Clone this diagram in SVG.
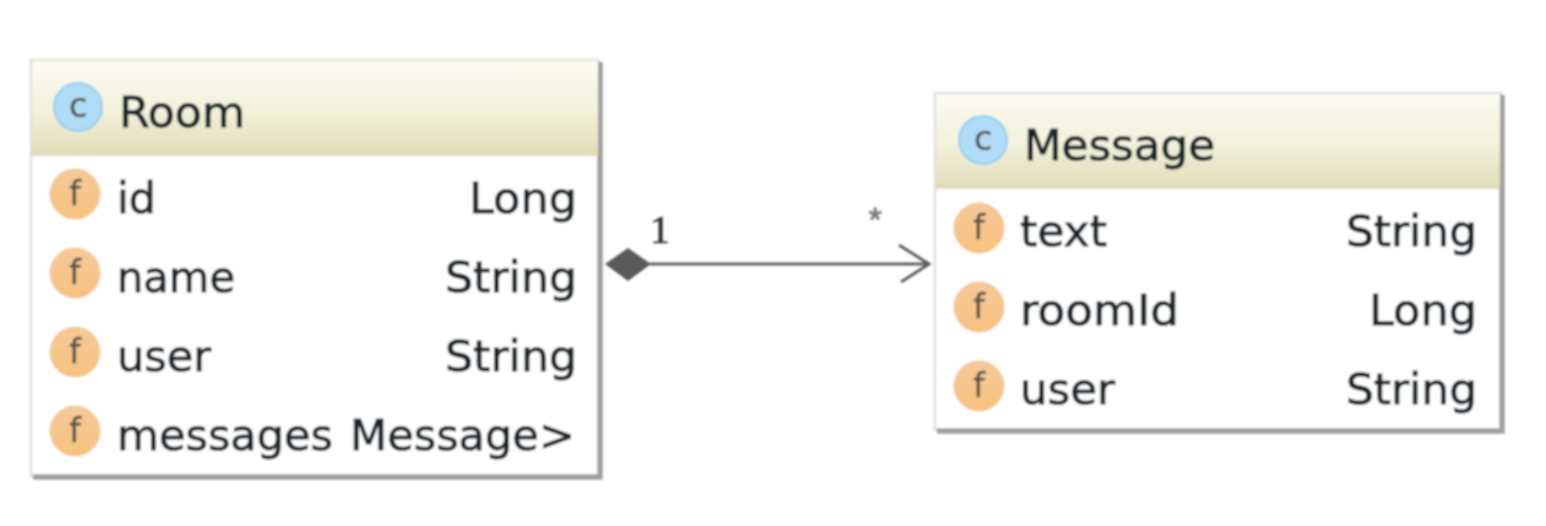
<svg xmlns="http://www.w3.org/2000/svg" width="1546" height="526" viewBox="0 0 1546 526">
<defs>
<linearGradient id="hd" x1="0" y1="0" x2="0" y2="1"><stop offset="0" stop-color="#fbfbf0"/><stop offset="0.5" stop-color="#f3f2dc"/><stop offset="1" stop-color="#dfdcb8"/></linearGradient>
<linearGradient id="fg" x1="0" y1="0" x2="0" y2="1"><stop offset="0" stop-color="#f7c998"/><stop offset="1" stop-color="#f6c27e"/></linearGradient>
<filter id="soft" x="-5%" y="-5%" width="110%" height="110%"><feGaussianBlur stdDeviation="1.1"/></filter>
</defs>
<style>
text{font-family:"DejaVu Sans","Liberation Sans",sans-serif;fill:#1f262c}
.t{font-size:43px;stroke:#1f262c;stroke-width:0.9}
.box{fill:#fff;stroke:#dedede;stroke-width:2.5}
.shr{fill:none;stroke:#a0a0a0;stroke-width:5.5}
.c{fill:#afdcf6;stroke:#98cdf0;stroke-width:2}
.f{fill:url(#fg);stroke:#f5c48e;stroke-width:1}
.ic{font-size:33px;text-anchor:middle;fill:#5a5348;stroke:#5a5348;stroke-width:0.5}
.ln{stroke:#5f5f5f;stroke-width:3;fill:none}
</style>
<g id="connectors" filter="url(#soft)">
<path class="ln" d="M650 264H929"/>
<path class="ln" d="M899 245L929 264L901 282"/>
<path d="M605 264L628 248L651 264L628 281Z" fill="#5a5a5a"/>
<text x="660" y="243" font-size="40" text-anchor="middle" style="font-family:'Liberation Serif',serif;fill:#333;stroke:#333;stroke-width:0.6">1</text>
<text x="875" y="231" font-size="34" text-anchor="middle" style="font-family:'Liberation Sans',sans-serif;fill:#777;stroke:#777;stroke-width:0.8">*</text>
</g>
<g id="room" filter="url(#soft)">
<rect class="box" x="31" y="60" width="568" height="416"/>
<path class="shr" d="M600 62V477H33"/>
<rect x="32" y="61" width="566" height="95" fill="url(#hd)"/>
<circle class="c" cx="78" cy="107" r="24"/><text class="ic" x="78" y="117">c</text>
<text class="t" x="119" y="127" textLength="126" lengthAdjust="spacingAndGlyphs">Room</text>
<circle class="f" cx="75" cy="194" r="25"/><text class="ic" x="75" y="205">f</text>
<text class="t" x="117" y="213" textLength="39" lengthAdjust="spacingAndGlyphs">id</text><text class="t" x="469" y="213" textLength="108" lengthAdjust="spacingAndGlyphs">Long</text>
<circle class="f" cx="75" cy="273" r="25"/><text class="ic" x="75" y="284">f</text>
<text class="t" x="117" y="292" textLength="118" lengthAdjust="spacingAndGlyphs">name</text><text class="t" x="445" y="292" textLength="132" lengthAdjust="spacingAndGlyphs">String</text>
<circle class="f" cx="75" cy="352" r="25"/><text class="ic" x="75" y="363">f</text>
<text class="t" x="117" y="371" textLength="94" lengthAdjust="spacingAndGlyphs">user</text><text class="t" x="445" y="371" textLength="132" lengthAdjust="spacingAndGlyphs">String</text>
<circle class="f" cx="75" cy="431" r="25"/><text class="ic" x="75" y="442">f</text>
<text class="t" x="117" y="450" textLength="216" lengthAdjust="spacingAndGlyphs">messages</text><text class="t" x="350" y="450" textLength="225" lengthAdjust="spacingAndGlyphs">Message&gt;</text>
</g>
<g id="message" filter="url(#soft)">
<rect class="box" x="935" y="93" width="566" height="337"/>
<path class="shr" d="M1502 95V431H937"/>
<rect x="936" y="94" width="564" height="95" fill="url(#hd)"/>
<circle class="c" cx="983" cy="140" r="24"/><text class="ic" x="983" y="150">c</text>
<text class="t" x="1024" y="160" textLength="191" lengthAdjust="spacingAndGlyphs">Message</text>
<circle class="f" cx="979" cy="228" r="25"/><text class="ic" x="979" y="239">f</text>
<text class="t" x="1020" y="246" textLength="87" lengthAdjust="spacingAndGlyphs">text</text><text class="t" x="1346" y="246" textLength="131" lengthAdjust="spacingAndGlyphs">String</text>
<circle class="f" cx="979" cy="307" r="25"/><text class="ic" x="979" y="318">f</text>
<text class="t" x="1020" y="325" textLength="159" lengthAdjust="spacingAndGlyphs">roomId</text><text class="t" x="1369" y="325" textLength="108" lengthAdjust="spacingAndGlyphs">Long</text>
<circle class="f" cx="979" cy="386" r="25"/><text class="ic" x="979" y="397">f</text>
<text class="t" x="1020" y="404" textLength="95" lengthAdjust="spacingAndGlyphs">user</text><text class="t" x="1346" y="404" textLength="131" lengthAdjust="spacingAndGlyphs">String</text>
</g>
</svg>
